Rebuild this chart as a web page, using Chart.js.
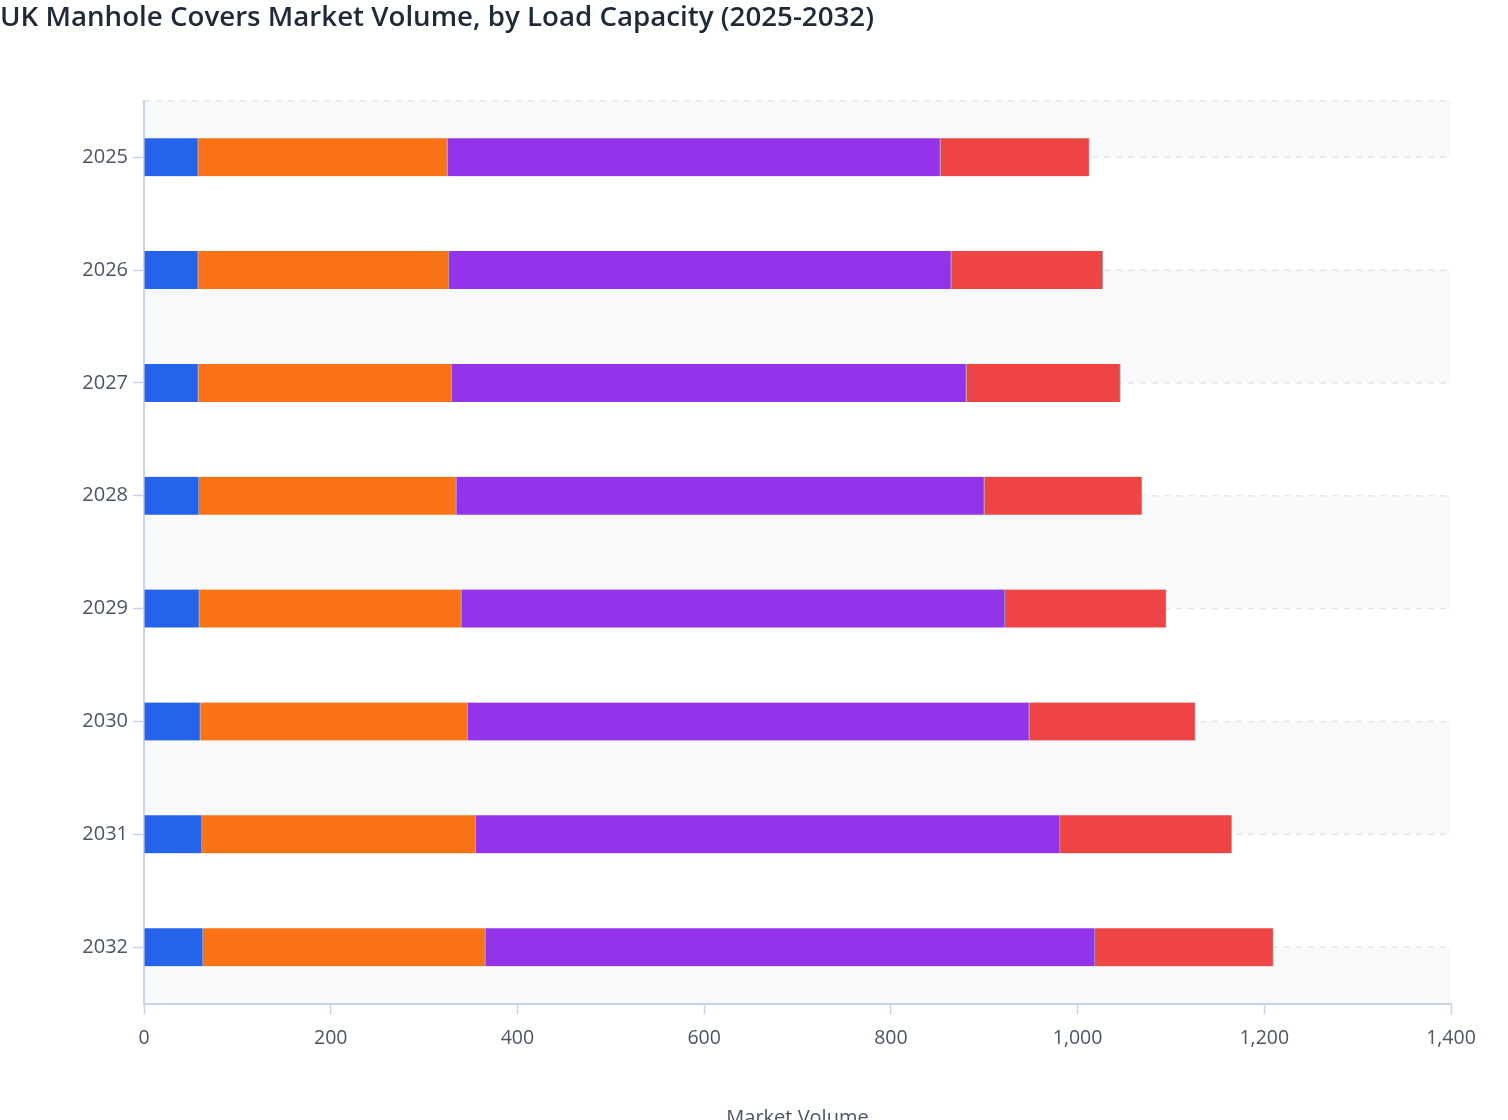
<!DOCTYPE html>
<html>
<head>
<meta charset="utf-8">
<title>UK Manhole Covers Market Volume</title>
<script src="https://cdn.jsdelivr.net/npm/chart.js@4.4.1/dist/chart.umd.min.js"></script>
<style>
  html, body { margin: 0; padding: 0; background: #fff; overflow: hidden; }
  #wrap { position: relative; width: 1508px; height: 1170px; }
</style>
</head>
<body>
<div id="wrap"><canvas id="volumeChart"></canvas></div>
<script>
// market volume by load capacity class
var years = ['2025', '2026', '2027', '2028', '2029', '2030', '2031', '2032'];
var seriesNames = ['A15 / B125', 'C250', 'D400', 'E600 / F900'];
var lightDuty = [58, 58, 58.2, 58.9, 59.2, 60.3, 62.1, 63.2];
var mediumDuty = [267, 268.7, 271.7, 275.6, 280.7, 286.4, 293.2, 302.4];
var heavyDuty = [528, 538, 551, 565.6, 582.4, 601.6, 625.9, 653.1];
var extraHeavy = [159.6, 162.5, 165, 168.9, 172.7, 177.8, 183.9, 191];
var colors = ['#2563eb', '#f97316', '#9333ea', '#ef4444'];

var axisColor = '#c9d3ee';
var labelColor = '#4b5563';

Chart.defaults.font.family = '"Open Sans", "Noto Sans", sans-serif';
Chart.defaults.color = labelColor;

// light bands between the row lines, plus dashed row lines
var bandPlugin = {
  id: 'rowBands',
  beforeDraw: function(chart) {
    var ctx = chart.ctx;
    var area = chart.chartArea;
    var yScale = chart.scales.y;
    var lines = [area.top];
    for (var i = 0; i < yScale.ticks.length; i++) {
      lines.push(yScale.getPixelForTick(i));
    }
    lines.push(area.bottom);

    ctx.save();
    ctx.fillStyle = '#f8f9fb';
    for (var j = 0; j < lines.length - 1; j++) {
      if (j % 2 === 0) {
        ctx.fillRect(area.left, lines[j], area.right - area.left, lines[j + 1] - lines[j]);
      }
    }
    ctx.strokeStyle = '#e5e7eb';
    ctx.lineWidth = 1.5;
    ctx.setLineDash([6, 6]);
    for (var k = 0; k < lines.length - 1; k++) {
      ctx.beginPath();
      ctx.moveTo(area.left, lines[k]);
      ctx.lineTo(area.right, lines[k]);
      ctx.stroke();
    }
    ctx.restore();
  }
};

function makeDataset(i, values) {
  return {
    label: seriesNames[i],
    data: values,
    backgroundColor: colors[i],
    borderColor: 'rgba(148, 163, 184, 0.9)',
    borderWidth: { top: 0, bottom: 0, left: 0, right: 1 },
    borderSkipped: false,
    barThickness: 38
  };
}

var ctx = document.getElementById('volumeChart').getContext('2d');
var chart = new Chart(ctx, {
  type: 'bar',
  data: {
    labels: years,
    datasets: [
      makeDataset(0, lightDuty),
      makeDataset(1, mediumDuty),
      makeDataset(2, heavyDuty),
      makeDataset(3, extraHeavy)
    ]
  },
  options: {
    indexAxis: 'y',
    responsive: true,
    maintainAspectRatio: false,
    animation: false,
    layout: {
      padding: { left: 0, right: 57, top: 0, bottom: 0 }
    },
    plugins: {
      title: {
        display: true,
        text: 'UK Manhole Covers Market Volume, by Load Capacity (2025-2032)',
        align: 'start',
        color: '#1f2937',
        font: { size: 27.7, weight: '600' },
        padding: { top: 1, bottom: 66.5 }
      },
      legend: {
        display: true,
        position: 'bottom',
        labels: { font: { size: 16 }, boxWidth: 16, boxHeight: 16 }
      },
      tooltip: { enabled: false }
    },
    scales: {
      x: {
        stacked: true,
        min: 0,
        max: 1400,
        ticks: {
          stepSize: 200,
          padding: 12,
          color: labelColor,
          font: { size: 19.5 }
        },
        grid: {
          drawOnChartArea: false,
          drawTicks: true,
          tickLength: 11,
          tickWidth: 1.5,
          tickColor: axisColor
        },
        border: { display: true, color: axisColor, width: 2 },
        title: {
          display: true,
          text: 'Market Volume',
          color: labelColor,
          font: { size: 20 },
          padding: { top: 44, bottom: 4 }
        }
      },
      y: {
        stacked: true,
        afterFit: function(axis) { axis.width = 144; },
        ticks: {
          padding: 5,
          color: labelColor,
          font: { size: 20 }
        },
        grid: {
          offset: false,
          drawOnChartArea: false,
          drawTicks: true,
          tickLength: 11,
          tickWidth: 1.5,
          tickColor: axisColor
        },
        border: { display: true, color: axisColor, width: 2 }
      }
    }
  },
  plugins: [bandPlugin]
});
</script>
</body>
</html>
